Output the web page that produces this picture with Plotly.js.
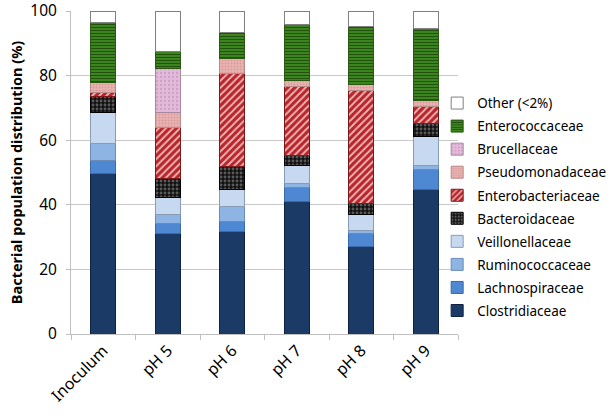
<!DOCTYPE html>
<html>
<head>
<meta charset="utf-8">
<script src="https://cdn.plot.ly/plotly-3.0.1.min.js"></script>
<style>html,body{margin:0;padding:0;background:#fff;}#chart{width:614px;height:418px;}</style>
</head>
<body>
<div id="chart"></div>
<script>
var categories = ["Inoculum", "pH 5", "pH 6", "pH 7", "pH 8", "pH 9"];
var clostridiaceae     = [49.6, 31.2, 31.8, 40.9, 27.1, 44.6];
var lachnospiraceae    = [4.2, 2.9, 2.9, 4.4, 4.1, 6.4];
var ruminococcaceae    = [5.2, 2.8, 4.7, 1.4, 0.7, 1.2];
var veillonellaceae    = [9.6, 5.3, 5.2, 5.6, 5.2, 9.0];
var bacteroidaceae     = [4.9, 5.9, 7.2, 3.1, 3.3, 4.1];
var enterobacteriaceae = [1.4, 15.7, 28.8, 21.2, 34.9, 5.2];
var pseudomonadaceae   = [2.9, 4.8, 4.7, 1.8, 1.8, 1.8];
var brucellaceae       = [0, 13.6, 0, 0, 0, 0];
var enterococcaceae    = [18.5, 5.4, 8.0, 17.5, 18.0, 22.3];
var other              = [3.7, 12.4, 6.7, 4.1, 4.9, 5.4];
var yTicks = [0, 20, 40, 60, 80, 100];

function tr(name, vals, rank, bg, line, pat) {
  var m = {color: bg, line: {color: line, width: 1}};
  if (pat) m.pattern = pat;
  return {type: "bar", name: name, legendgroup: name, legendrank: rank, x: categories, y: vals, marker: m, width: 0.39, hoverinfo: "name+y"};
}

var data = [
  tr("Clostridiaceae", clostridiaceae, 10, "#1B3A66", "#0F2340"),
  tr("Lachnospiraceae", lachnospiraceae, 9, "#4F88D2", "#3A6AA8"),
  tr("Ruminococcaceae", ruminococcaceae, 8, "#8EB4E3", "#6A8DB8"),
  tr("Veillonellaceae", veillonellaceae, 7, "#C6D9F1", "#8A9CB5"),
  tr("Bacteroidaceae", bacteroidaceae, 6, "#111111", "#000000",
     {shape: ".", bgcolor: "#111111", fgcolor: "#5a5a5a", size: 4, solidity: 0.4, fillmode: "replace"}),
  tr("Enterobacteriaceae", enterobacteriaceae, 5, "#B8262C", "#7a1a1a",
     {shape: "/", bgcolor: "#B8262C", fgcolor: "#EFB9B9", size: 5, solidity: 0.35, fillmode: "replace"}),
  tr("Pseudomonadaceae", pseudomonadaceae, 4, "#E8B4B2", "#B88A88",
     {shape: ".", bgcolor: "#E8B4B2", fgcolor: "#D99A98", size: 3, solidity: 0.3, fillmode: "replace"}),
  tr("Brucellaceae", brucellaceae, 3, "#E4BADA", "#A888A0",
     {shape: ".", bgcolor: "#E4BADA", fgcolor: "#CFA0C6", size: 4, solidity: 0.25, fillmode: "replace"}),
  tr("Enterococcaceae", enterococcaceae, 2, "#3F8A1E", "#2A5A12",
     {shape: "-", bgcolor: "#3F8A1E", fgcolor: "#22520E", size: 3, solidity: 0.4, fillmode: "replace"}),
  tr("Other (<2%)", other, 1, "#FFFFFF", "#808080")
];

var layout = {
  width: 614, height: 418,
  margin: {l: 71, r: 156, t: 11, b: 84, autoexpand: false},
  paper_bgcolor: "#ffffff", plot_bgcolor: "#ffffff",
  barmode: "stack",
  bargap: 0.61,
  font: {family: "Noto Sans, Open Sans, sans-serif", color: "#000"},
  xaxis: {
    type: "category",
    tickangle: -45,
    tickfont: {size: 16, color: "#000"},
    showline: true, linecolor: "#BFBFBF", linewidth: 1,
    ticks: "outside", tickson: "boundaries", ticklen: 5, tickcolor: "#BFBFBF",
    showgrid: false, zeroline: false
  },
  yaxis: {
    range: [0, 100],
    tickvals: yTicks,
    ticktext: yTicks.map(String),
    tickfont: {size: 15.5, color: "#000"},
    ticklabeloverflow: "allow",
    ticklabelstandoff: 6,
    showgrid: true, gridcolor: "#C8C8C8", gridwidth: 1,
    showline: true, linecolor: "#BFBFBF", linewidth: 1,
    ticks: "outside", ticklen: 4, tickcolor: "#BFBFBF",
    zeroline: false,
    title: {text: "<b>Bacterial population distribution (%)</b>", font: {size: 14.5, color: "#000"}, standoff: 4}
  },
  legend: {
    xref: "container", yref: "container",
    x: 0.712, xanchor: "left", y: 0.79, yanchor: "top",
    traceorder: "grouped",
    tracegroupgap: 2.5,
    maxheight: 400,
    font: {size: 13.5, color: "#000"},
    itemwidth: 30,
    bgcolor: "rgba(0,0,0,0)"
  },
  showlegend: true
};

Plotly.newPlot("chart", data, layout, {displayModeBar: false, staticPlot: true});
</script>
</body>
</html>
